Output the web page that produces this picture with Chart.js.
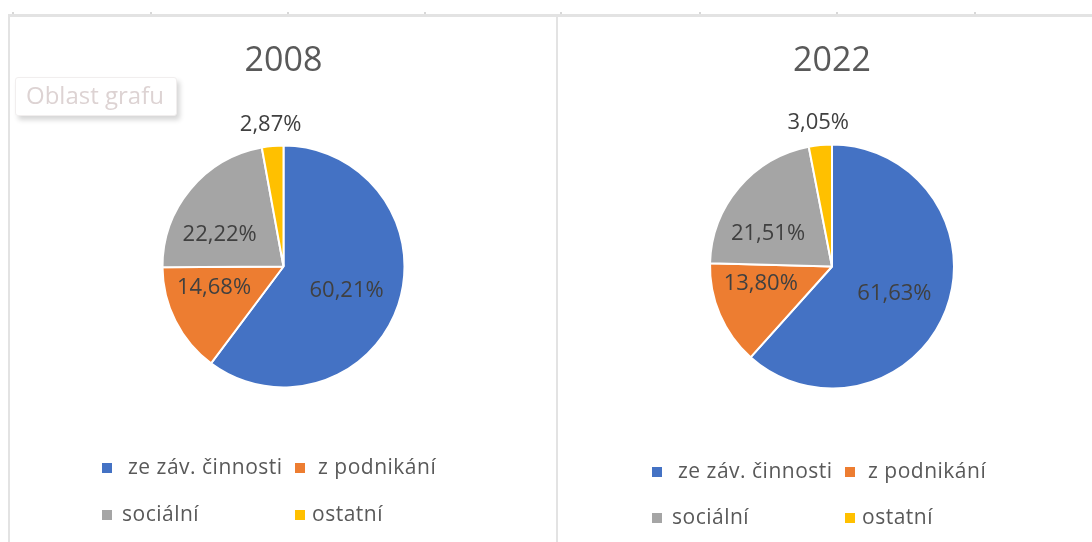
<!DOCTYPE html>
<html>
<head>
<meta charset="utf-8">
<script src="https://cdn.jsdelivr.net/npm/chart.js@4.4.0/dist/chart.umd.min.js"></script>
<style>
html,body{margin:0;padding:0;background:#fff;width:1092px;height:542px;overflow:hidden;font-family:"Open Sans",sans-serif;}
#stage{position:relative;width:1092px;height:542px;}
.line{position:absolute;background:#e3e3e3;}
.tick{position:absolute;background:#d8d8d8;width:2px;height:2px;top:12px;}
.chartbox{position:absolute;top:16px;height:526px;}
.chartbox canvas{position:absolute;left:0;top:0;}
.sw{position:absolute;width:10px;height:10px;}
.lt{position:absolute;font-size:21px;line-height:24px;color:#595959;white-space:nowrap;letter-spacing:0.5px;}
#tip{position:absolute;left:15px;top:77px;width:162px;height:39px;background:#fff;border:1px solid #f1eeee;border-radius:3px;box-shadow:3px 4px 5px rgba(0,0,0,0.16);box-sizing:border-box;font-size:24px;line-height:33px;color:#ddd3d3;padding-left:10px;white-space:nowrap;}
</style>
</head>
<body>
<div id="stage">
  <div class="line" style="left:9px;top:14px;width:1083px;height:3px;"></div>
  <div class="line" style="left:8px;top:14px;width:2px;height:528px;"></div>
  <div class="line" style="left:556px;top:14px;width:2px;height:528px;"></div>
  <div id="ticks"></div>
  <div class="chartbox" id="box0" style="left:8px;width:547px;"><canvas id="c0" width="547" height="526"></canvas></div>
  <div class="chartbox" id="box1" style="left:558px;width:534px;"><canvas id="c1" width="534" height="526"></canvas></div>
  <div id="tip">Oblast grafu</div>
</div>
<script>
// ---- data ----
const categories = ['ze záv. činnosti', 'z podnikání', 'sociální', 'ostatní'];
const years = ['2008', '2022'];
const values2008 = [60.21, 14.68, 22.22, 2.87];
const values2022 = [61.63, 13.80, 21.51, 3.05];
const colors = ['#4472C4', '#ED7D31', '#A5A5A5', '#FFC000'];

// ---- frame ticks (sheet column marks) ----
const tickXs = [12, 150, 287, 424, 560, 699, 836, 974];
const tk = document.getElementById('ticks');
tickXs.forEach(x => { const d = document.createElement('div'); d.className = 'tick'; d.style.left = x + 'px'; tk.appendChild(d); });

// ---- label placement (relative to each slice: radius fraction, angular shift in degrees) ----
const labelPlacement = [
  {dist: 0.56, turn: 3},
  {dist: 0.60, turn: 10},
  {dist: 0.59, turn: -13},
  {dist: 1.18, turn: 0}
];
const fmt = v => v.toFixed(2).replace('.', ',') + '%';

const pctLabels = {
  id: 'pctLabels',
  afterDatasetsDraw(chart) {
    const ctx = chart.ctx;
    const meta = chart.getDatasetMeta(0);
    const vals = chart.data.datasets[0].data;
    ctx.save();
    ctx.font = '22px "Open Sans"';
    ctx.fillStyle = '#404040';
    ctx.textAlign = 'center';
    ctx.textBaseline = 'middle';
    meta.data.forEach((arc, i) => {
      const p = arc.getProps(['x', 'y', 'startAngle', 'endAngle', 'outerRadius'], true);
      const mid = (p.startAngle + p.endAngle) / 2 + labelPlacement[i].turn * Math.PI / 180;
      const d = p.outerRadius * labelPlacement[i].dist;
      ctx.fillText(fmt(vals[i]), p.x + Math.cos(mid) * d, p.y + Math.sin(mid) * d);
    });
    ctx.restore();
  }
};

function makePie(id, year, values, pad, titleBottom) {
  return new Chart(document.getElementById(id), {
    type: 'pie',
    data: {
      labels: categories,
      datasets: [{ data: values, backgroundColor: colors, borderColor: '#ffffff', borderWidth: 2 }]
    },
    options: {
      responsive: false,
      animation: false,
      layout: { padding: pad },
      plugins: {
        legend: { display: false },
        tooltip: { enabled: false },
        title: {
          display: true, text: year, color: '#595959',
          font: { family: '"Open Sans"', size: 34, weight: 'normal', lineHeight: 1.2 },
          padding: { top: 25, bottom: titleBottom }
        }
      }
    },
    plugins: [pctLabels]
  });
}

makePie('c0', years[0], values2008, {left: 153.5, right: 149.5, top: 0, bottom: 153.5}, 62.7);
makePie('c1', years[1], values2022, {left: 151, right: 137, top: 0, bottom: 152.5}, 61.7);

// ---- legends (HTML, two columns x two rows, Excel-like) ----
function makeLegend(boxId, rowCenters) {
  const box = document.getElementById(boxId);
  const swX = [94, 287];
  const txtX = [[120, 310], [114, 304]];
  categories.forEach((name, i) => {
    const row = Math.floor(i / 2), col = i % 2;
    const cy = rowCenters[row];
    const sw = document.createElement('div');
    sw.className = 'sw';
    sw.style.left = swX[col] + 'px';
    sw.style.top = (cy - 5) + 'px';
    sw.style.background = colors[i];
    box.appendChild(sw);
    const t = document.createElement('div');
    t.className = 'lt';
    t.textContent = name;
    t.style.left = txtX[row][col] + 'px';
    t.style.top = (cy - 14) + 'px';
    box.appendChild(t);
  });
}
makeLegend('box0', [452, 499]);
makeLegend('box1', [456, 502]);
</script>
</body>
</html>
